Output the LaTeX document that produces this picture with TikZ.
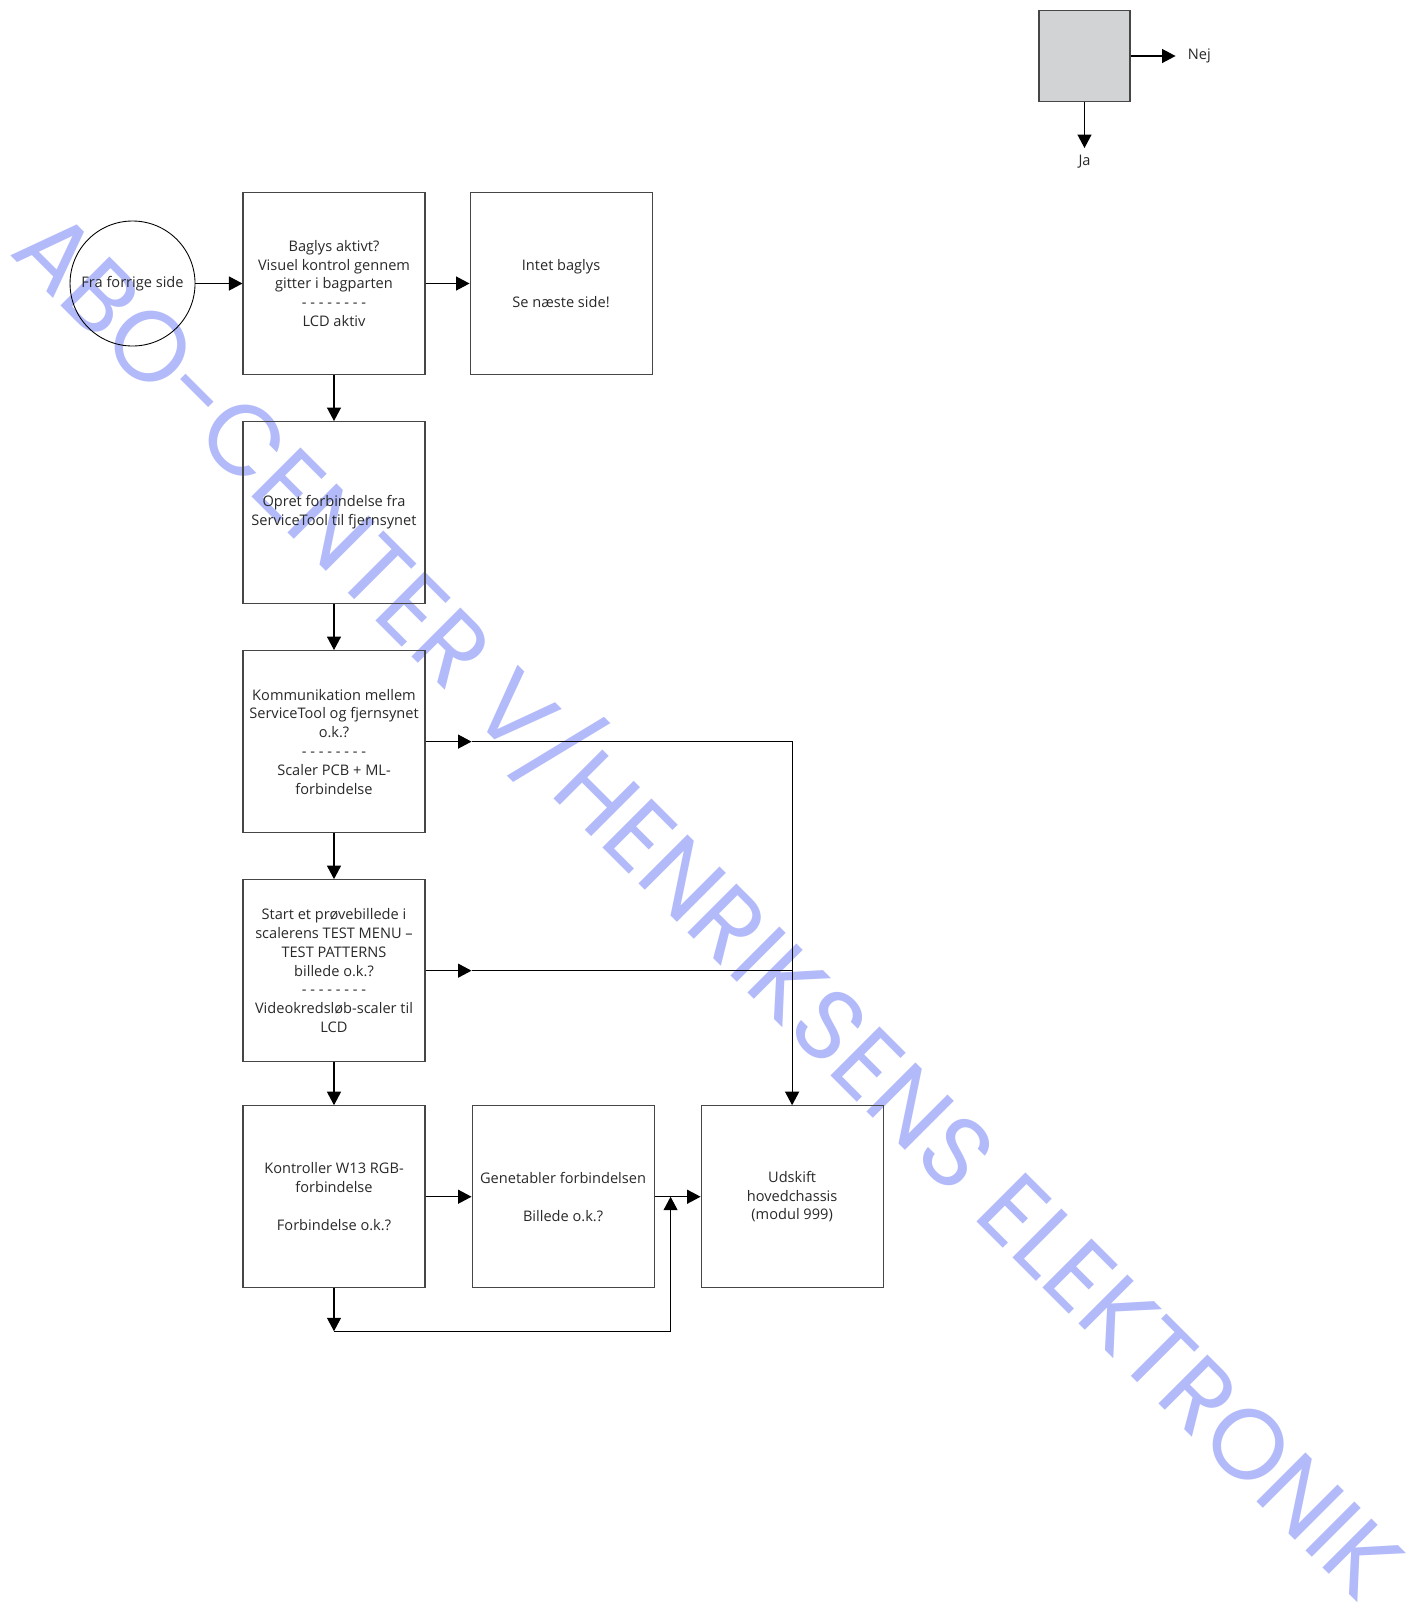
\documentclass[tikz,border=0pt]{standalone}
\usepackage{fontspec}
\setmainfont{Open Sans}
\newfontfamily\wmfont{Poppins}
\usetikzlibrary{arrows.meta,positioning}

\definecolor{wmblue}{RGB}{178,186,250}
\definecolor{boxline}{RGB}{70,70,70}
\definecolor{txtgray}{RGB}{40,40,40}
\definecolor{legendfill}{RGB}{210,211,213}
\newcommand{\boxfont}{\fontsize{8.3}{10.7}\selectfont}

\begin{document}
\begin{tikzpicture}[
  >={Triangle[length=0.27cm, width=0.28cm]},
  node distance=0.92cm,
  box/.style={rectangle, draw=boxline, line width=0.6pt,
    minimum width=3.64cm, minimum height=3.64cm, inner sep=2pt,
    align=center, font=\boxfont, text=txtgray},
  startcircle/.style={circle, draw=black, line width=0.5pt,
    minimum size=2.5cm, inner sep=0pt, font=\boxfont, text=txtgray},
  legendbox/.style={rectangle, draw=boxline, fill=legendfill,
    line width=0.6pt, minimum size=1.82cm},
  legendlabel/.style={font=\boxfont, text=txtgray, inner sep=1pt},
  watermark/.style={font=\wmfont\fontsize{56.5}{64}\selectfont,
    text=wmblue, inner sep=0pt},
  every path/.style={line width=0.7pt},
]
  \useasboundingbox (0,0) rectangle (28.46,-32.12);

  % watermark behind the chart
  \node[watermark, rotate=-45, anchor=base west] (wm) at (0.16,-5.06)
    {ABO-CENTER V/HENRIKSENS ELEKTRONIK};

  % legend
  \node[legendbox] (legend) at (21.69,-1.12) {};
  \coordinate[right=0.9cm of legend.east] (nejend);
  \coordinate[below=0.92cm of legend.south] (jaend);
  \node[legendlabel, right=0.2cm of nejend] (nej) {Nej};
  \node[legendlabel, below=0.1cm of jaend] (ja) {Ja};
  \draw[->] (legend.east) -- (nejend);
  \draw[->] (legend.south) -- (jaend);

  % chart
  \node[box] (baglys) at (6.68,-5.67) {Baglys aktivt?\\Visuel kontrol gennem\\gitter i bagparten\\- - - - - - - -\\LCD aktiv};
  \node[startcircle, left=0.94cm of baglys] (fra) {Fra forrige side};
  \node[box, right=0.88cm of baglys] (intet) {Intet baglys\\[10.7pt]Se næste side!};
  \node[box, below=of baglys] (opret) {Opret forbindelse fra\\ServiceTool til fjernsynet};
  \node[box, below=of opret] (komm) {Kommunikation mellem\\ServiceTool og fjernsynet\\o.k.?\\- - - - - - - -\\Scaler PCB + ML-\\forbindelse};
  \node[box, below=of komm] (test) {Start et prøvebillede i\\scalerens TEST MENU –\\TEST PATTERNS\\billede o.k.?\\- - - - - - - -\\Videokredsløb-scaler til\\LCD};
  \node[box, below=0.86cm of test] (kontr) {Kontroller W13 RGB-\\forbindelse\\[10.7pt]Forbindelse o.k.?};
  \node[box, right=of kontr] (genet) {Genetabler forbindelsen\\[10.7pt]Billede o.k.?};
  \node[box, right=of genet] (udskift) {Udskift\\hovedchassis\\(modul 999)};

  \coordinate (k1) at (komm.east -| genet.west);
  \coordinate (t1) at (test.east -| genet.west);
  \coordinate[below=0.86cm of kontr.south] (loop);
  \coordinate[right=0.32cm of genet.east] (merge);

  \draw[->] (fra) -- (baglys);
  \draw[->] (baglys) -- (intet);
  \draw[->] (baglys) -- (opret);
  \draw[->] (opret) -- (komm);
  \draw[->] (komm) -- (test);
  \draw[->] (test) -- (kontr);
  \draw[->] (komm.east) -- (k1);
  \draw[->] (k1) -| (udskift);
  \draw[->] (test.east) -- (t1);
  \draw (t1) -- (t1 -| udskift.north);
  \draw[->] (kontr) -- (genet);
  \draw[->] (genet) -- (udskift);
  \draw[->] (kontr) -- (loop);
  \draw[->] (loop) -| (merge);
\end{tikzpicture}
\end{document}
